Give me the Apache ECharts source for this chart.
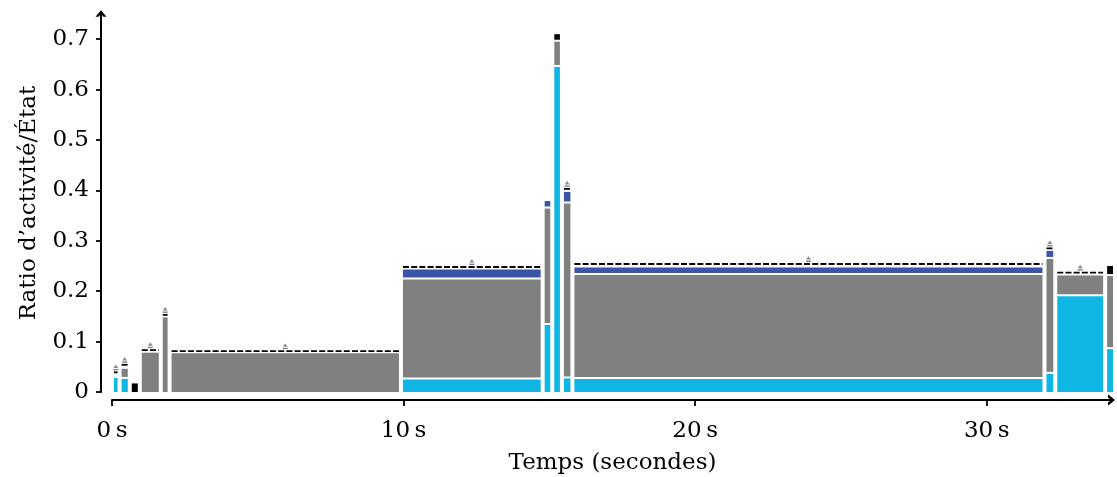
<!DOCTYPE html>
<html>
<head>
<meta charset="utf-8">
<script src="https://cdn.jsdelivr.net/npm/echarts@6/dist/echarts.min.js"></script>
<style>
html,body{margin:0;padding:0;background:#fff;}
#c{width:1117px;height:477px;}
</style>
</head>
<body>
<div id="c"></div>
<script>
// Interval boundaries (seconds)
const starts = [0, 0.26, 0.61, 0.953, 1.673, 1.975, 9.91, 14.77, 15.10, 15.43, 15.79, 31.98, 32.35, 34.06];
const ends   = [0.26, 0.61, 0.953, 1.673, 1.975, 9.91, 14.77, 15.10, 15.43, 15.79, 31.98, 32.35, 34.06, 34.60];
// Stacked segment heights per interval
const cyanVals  = [0.028, 0.026, 0, 0, 0, 0, 0.025, 0.133, 0.645, 0.027, 0.026, 0.036, 0.190, 0.085];
const grayVals  = [0, 0.020, 0, 0.078, 0.148, 0.077, 0.198, 0.231, 0.050, 0.347, 0.206, 0.228, 0.041, 0.145];
const blueVals  = [0, 0, 0, 0, 0, 0, 0.020, 0.015, 0, 0.023, 0.015, 0.016, 0, 0];
const blackVals = [0, 0, 0.017, 0, 0, 0, 0, 0, 0.015, 0, 0, 0, 0, 0.020];
// Dashed reference level (0 = none), with marker
const dashVals  = [0.039, 0.054, 0, 0.083, 0.153, 0.081, 0.248, 0, 0, 0.403, 0.254, 0.285, 0.237, 0];
// Axis ticks
const xTicks = [0, 10, 20, 30];
const yTicks = [0, 0.1, 0.2, 0.3, 0.4, 0.5, 0.6, 0.7];

const segColors = ['#0fb5e3', '#808080', '#3a55a8', '#000000'];
const FONT = 'DejaVu Serif';

const data = starts.map((s, i) => [s, ends[i], cyanVals[i], grayVals[i], blueVals[i], blackVals[i], dashVals[i]]);

const chart = echarts.init(document.getElementById('c'), null, {renderer: 'canvas'});

const chevron = 'path://M0,6 L5,0 L10,6 L7.2,6 L5,3.2 L2.8,6 Z';

chart.setOption({
  animation: false,
  backgroundColor: '#fff',
  textStyle: {fontFamily: FONT, color: '#000'},
  grid: {left: 112, right: 4, top: 14, bottom: 85, containLabel: false, outerBoundsMode: 'none'},
  xAxis: {
    type: 'value', min: 0, max: 34.33, interval: 10,
    offset: 8,
    name: 'Temps (secondes)', nameLocation: 'middle', nameGap: 52,
    nameTextStyle: {fontFamily: FONT, fontSize: 23, color: '#000'},
    axisLine: {show: true, onZero: false, lineStyle: {color: '#000', width: 2},
      symbol: ['none', chevron], symbolSize: [12, 7], symbolOffset: [0, -1.5]},
    axisTick: {show: true, inside: false, length: 6, lineStyle: {color: '#000', width: 1.8}, customValues: xTicks},
    axisLabel: {show: true, margin: 20, fontFamily: FONT, fontSize: 23, color: '#000',
      customValues: xTicks, formatter: v => v + '\u2009s'},
    splitLine: {show: false}
  },
  yAxis: {
    type: 'value', min: 0, max: 0.75, interval: 0.1,
    offset: 11,
    name: 'Ratio d\u2019activit\u00e9/\u00c9tat', nameLocation: 'middle', nameGap: 60, nameRotate: 90,
    nameTextStyle: {fontFamily: FONT, fontSize: 23, color: '#000'},
    axisLine: {show: true, onZero: false, lineStyle: {color: '#000', width: 2},
      symbol: ['none', chevron], symbolSize: [11, 7], symbolOffset: [0, 0.5]},
    axisTick: {show: true, inside: false, length: 5, lineStyle: {color: '#000', width: 1.8}, customValues: yTicks},
    axisLabel: {show: true, margin: 12, fontFamily: FONT, fontSize: 23, color: '#000',
      customValues: yTicks, formatter: v => v === 0 ? '0' : v.toFixed(1)},
    splitLine: {show: false}
  },
  series: [{
    type: 'custom',
    data: data,
    encode: {x: [0, 1], y: 6},
    clip: true,
    renderItem: function (params, api) {
      const cs = params.coordSys;
      const s = api.value(0), e = api.value(1);
      const x0 = api.coord([s, 0])[0] + 2;
      const x1 = Math.min(api.coord([e, 0])[0] - 2, cs.x + cs.width + 1);
      const children = [];
      let base = 0;
      for (let k = 0; k < 4; k++) {
        const h = api.value(2 + k);
        if (!h) continue;
        const yb = api.coord([s, base])[1] - (base > 0 ? 2 : 0);
        const yt = api.coord([s, base + h])[1];
        children.push({
          type: 'rect',
          shape: {x: x0, y: yt, width: x1 - x0, height: yb - yt},
          style: {fill: segColors[k]}
        });
        base += h;
      }
      const d = api.value(6);
      if (d > 0) {
        const yd = api.coord([s, d])[1];
        children.push({
          type: 'line',
          shape: {x1: x0, y1: yd, x2: x1, y2: yd},
          style: {stroke: '#000', lineWidth: 1.8, lineDash: [6, 2.2]}
        });
        const cx = (x0 + x1) / 2;
        children.push({
          type: 'rect',
          shape: {x: cx - 2.5, y: yd - 3.4, width: 5, height: 1.4},
          style: {fill: '#808080'}
        });
        children.push({
          type: 'polygon',
          shape: {points: [[cx - 2.5, yd - 4.4], [cx + 2.5, yd - 4.4], [cx, yd - 7.8]]},
          style: {fill: '#8c8c8c'}
        });
      }
      return {type: 'group', children: children};
    }
  }]
});
</script>
</body>
</html>
